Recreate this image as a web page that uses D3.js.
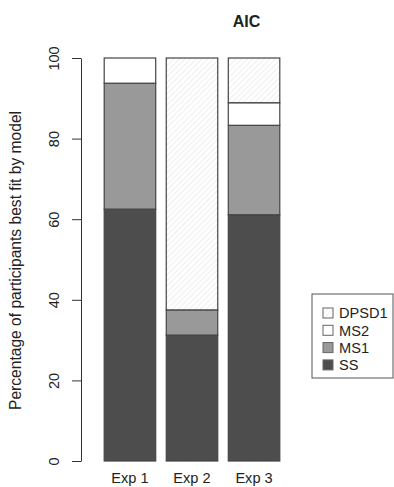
<!DOCTYPE html>
<html>
<head>
<meta charset="utf-8">
<script src="https://cdnjs.cloudflare.com/ajax/libs/d3/7.8.5/d3.min.js"></script>
<style>
  body { margin: 0; background: #fff; }
  text { font-family: "Liberation Sans", Arial, sans-serif; fill: #222; }
</style>
</head>
<body>
<div id="chart"></div>
<script>
// categories and stacked series (percent of participants)
var experiments = ["Exp 1", "Exp 2", "Exp 3"];
var models = ["SS", "MS1", "MS2", "DPSD1"];
var SS    = [62.5, 31.25, 61.1];
var MS1   = [31.25, 6.25, 22.2];
var MS2   = [6.25, 0, 5.6];
var DPSD1 = [0, 62.5, 11.1];
var yTicks = [0, 20, 40, 60, 80, 100];

var width = 394, height = 487;
var axisX = 81;

var svg = d3.select("#chart")
  .append("svg")
    .attr("width", width)
    .attr("height", height);

// hatch for DPSD1
var defs = svg.append("defs");
var pat = defs.append("pattern")
    .attr("id", "hatch")
    .attr("patternUnits", "userSpaceOnUse")
    .attr("width", 4)
    .attr("height", 4)
    .attr("patternTransform", "rotate(45)");
pat.append("rect").attr("width", 4).attr("height", 4).attr("fill", "#fff");
pat.append("line")
    .attr("x1", 0).attr("y1", 0).attr("x2", 0).attr("y2", 4)
    .attr("stroke", "#dedede")
    .attr("stroke-width", 1);

var fills = {SS: "#4d4d4d", MS1: "#999999", MS2: "#ffffff", DPSD1: "url(#hatch)"};

var rows = experiments.map(function(e, i) {
  return {exp: e, SS: SS[i], MS1: MS1[i], MS2: MS2[i], DPSD1: DPSD1[i]};
});
var stack = d3.stack().keys(models)(rows);

var y = d3.scaleLinear()
  .domain([0, 100])
  .range([461, 58]);

var x = d3.scaleBand()
  .domain(experiments)
  .range([98, 286])
  .paddingInner(0.17)
  .paddingOuter(0.1);

// Y axis
var yAxis = svg.append("g")
  .attr("transform", "translate(" + axisX + ",0)")
  .call(d3.axisLeft(y).tickValues(yTicks).tickSize(9).tickSizeOuter(0));
yAxis.select(".domain").attr("stroke", "#333");
yAxis.selectAll(".tick line").attr("stroke", "#333");
yAxis.selectAll(".tick text")
  .attr("font-size", "14.5px")
  .attr("fill", "#222")
  .attr("text-anchor", "middle")
  .attr("transform", "translate(-22,0) rotate(-90)")
  .attr("x", 0)
  .attr("y", 0)
  .attr("dy", 0);

// bars
svg.selectAll(".layer")
  .data(stack)
  .enter().append("g")
    .attr("fill", function(d) { return fills[d.key]; })
  .selectAll("rect")
  .data(function(d) { return d; })
  .enter().append("rect")
    .filter(function(d) { return d[1] - d[0] > 0; })
    .attr("x", function(d) { return x(d.data.exp); })
    .attr("width", x.bandwidth())
    .attr("y", function(d) { return y(d[1]); })
    .attr("height", function(d) { return y(d[0]) - y(d[1]); })
    .attr("stroke", "#444")
    .attr("stroke-width", 1.2);

// x labels
svg.selectAll(".xlab")
  .data(experiments)
  .enter().append("text")
    .attr("x", function(d) { return x(d) + x.bandwidth() / 2; })
    .attr("y", 483)
    .attr("text-anchor", "middle")
    .attr("font-size", "14.6px")
    .text(function(d) { return d; });

// title
svg.append("text")
  .attr("x", 246.5)
  .attr("y", 27)
  .attr("text-anchor", "middle")
  .attr("font-size", "16px")
  .attr("font-weight", "bold")
  .text("AIC");

// y label
svg.append("text")
  .attr("transform", "translate(21,260.5) rotate(-90)")
  .attr("text-anchor", "middle")
  .attr("font-size", "15.6px")
  .text("Percentage of participants best fit by model");

// legend
var legend = svg.append("g").attr("transform", "translate(312,294)");
legend.append("rect")
  .attr("width", 81)
  .attr("height", 84)
  .attr("fill", "#fff")
  .attr("stroke", "#555");
var legendKeys = models.slice().reverse();
var item = legend.selectAll(".item")
  .data(legendKeys)
  .enter().append("g")
    .attr("transform", function(d, i) { return "translate(11," + (19 + i * 17.3) + ")"; });
item.append("rect")
  .attr("x", 0)
  .attr("y", -5)
  .attr("width", 10)
  .attr("height", 10)
  .attr("fill", function(d) { return fills[d]; })
  .attr("stroke", "#666");
item.append("text")
  .attr("x", 16)
  .attr("dy", "0.36em")
  .attr("font-size", "14.6px")
  .text(function(d) { return d; });
</script>
</body>
</html>
